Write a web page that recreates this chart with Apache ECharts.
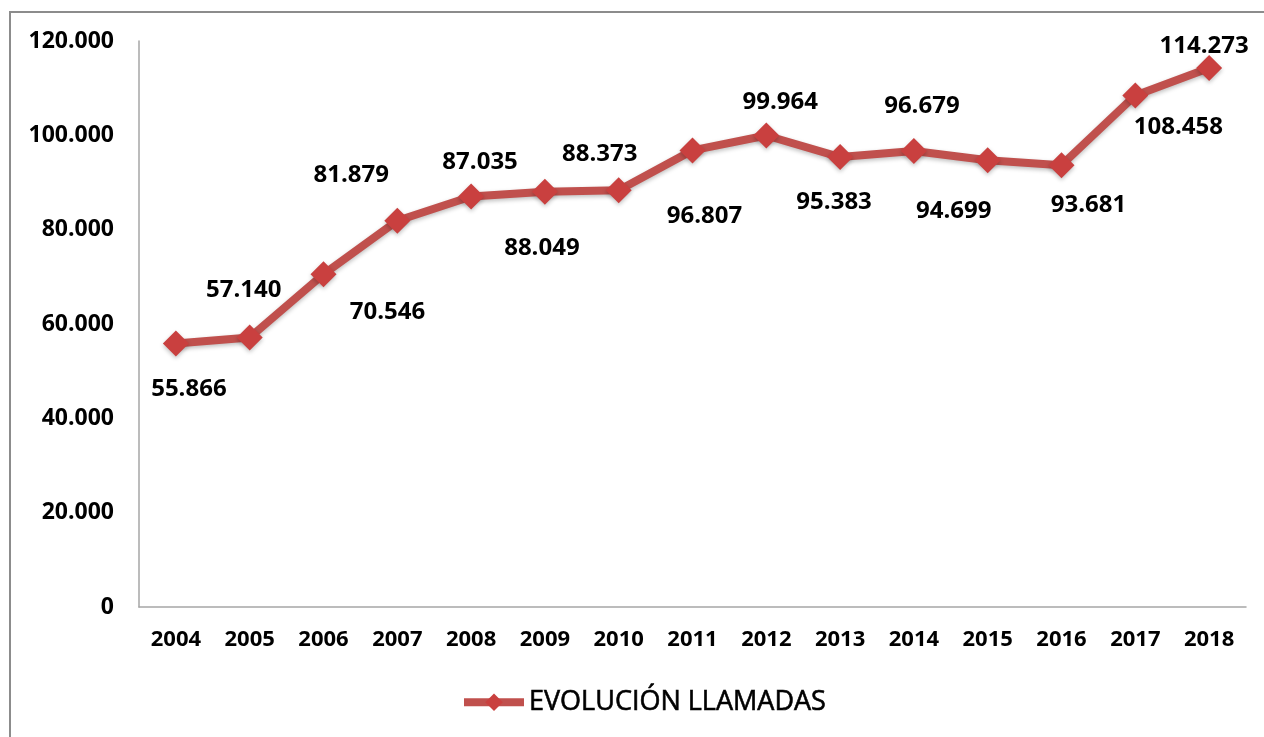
<!DOCTYPE html>
<html><head><meta charset="utf-8">
<script src="https://cdn.jsdelivr.net/npm/echarts@6/dist/echarts.min.js"></script>
<style>
html,body{margin:0;padding:0;background:#fff;overflow:hidden;}
#frame{position:absolute;left:9px;top:11px;width:1400px;height:900px;border:2px solid #8c8c8c;box-sizing:border-box;}
#c{position:absolute;left:0;top:0;width:1264px;height:737px;}
</style></head>
<body>
<div id="frame"></div>
<div id="c"></div>
<script>
const years = ['2004','2005','2006','2007','2008','2009','2010','2011','2012','2013','2014','2015','2016','2017','2018'];
const llamadas = [55866, 57140, 70546, 81879, 87035, 88049, 88373, 96807, 99964, 95383, 96679, 94699, 93681, 108458, 114273];
const seriesName = 'EVOLUCIÓN LLAMADAS';

// label placement relative to each marker (layout only)
const labelShift = [[13,46],[-6,-47],[64,38],[-46,-46],[9,-34],[-3,56],[-19,-36],[12,66],[14,-33],[-6,45],[8,-45],[-34,51],[27,40],[43,32],[-5,-22]];

function fmt(v){ return v.toLocaleString('de-DE'); }

const chart = echarts.init(document.getElementById('c'));
chart.setOption({
  backgroundColor: 'transparent',
  animation: false,
  grid: {left: 139, right: 18, top: 41, bottom: 130, containLabel: false},
  legend: {
    data: [seriesName],
    bottom: 16,
    left: 455,
    itemWidth: 60,
    itemHeight: 22,
    itemGap: 3,
    lineStyle: {width: 8, color: '#c0504d'},
    textStyle: {fontFamily: 'Open Sans', fontSize: 27, color: '#000', fontWeight: 'normal',
      textBorderColor: '#000', textBorderWidth: 0.6}
  },
  xAxis: {
    type: 'category',
    data: years,
    boundaryGap: true,
    axisLine: {lineStyle: {color: '#a6a6a6', width: 1.5}},
    axisTick: {show: false},
    axisLabel: {fontFamily: 'Open Sans', fontWeight: 'bold', fontSize: 22, color: '#000', margin: 22}
  },
  yAxis: {
    type: 'value',
    min: 0, max: 120000, interval: 20000,
    axisLine: {show: true, lineStyle: {color: '#a6a6a6', width: 1.5}},
    axisTick: {show: false},
    splitLine: {show: false},
    axisLabel: {fontFamily: 'Open Sans', fontWeight: 'bold', fontSize: 23, color: '#000', margin: 25,
      formatter: v => v === 0 ? '0' : fmt(v)}
  },
  series: [{
    name: seriesName,
    type: 'line',
    data: llamadas.map((v, i) => ({
      value: v,
      label: {position: 'inside', offset: labelShift[i]}
    })),
    symbol: 'diamond',
    symbolSize: 26,
    lineStyle: {color: '#c0504d', width: 8, shadowColor: 'rgba(0,0,0,0.25)', shadowBlur: 4, shadowOffsetY: 2},
    itemStyle: {color: '#c9403f', shadowColor: 'rgba(0,0,0,0.25)', shadowBlur: 4, shadowOffsetY: 2},
    label: {
      show: true,
      fontFamily: 'Open Sans', fontWeight: 'bold', fontSize: 24, color: '#000',
      formatter: p => fmt(p.value)
    }
  }]
});
</script>
</body></html>
